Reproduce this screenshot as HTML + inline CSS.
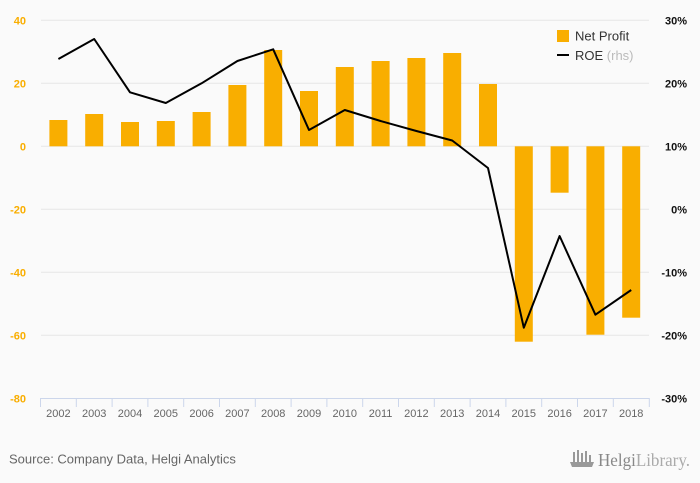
<!DOCTYPE html>
<html><head><meta charset="utf-8"><style>
html,body{margin:0;padding:0;background:#fafafa;}
svg{display:block;font-family:"Liberation Sans",sans-serif;}
</style></head><body>
<svg width="700" height="483" viewBox="0 0 700 483" xmlns="http://www.w3.org/2000/svg">
<rect width="700" height="483" fill="#fafafa"/>
<g stroke="#e6e6e6" stroke-width="1">
<line x1="41" y1="20.3" x2="649" y2="20.3"/>
<line x1="41" y1="83.3" x2="649" y2="83.3"/>
<line x1="41" y1="146.3" x2="649" y2="146.3"/>
<line x1="41" y1="209.3" x2="649" y2="209.3"/>
<line x1="41" y1="272.3" x2="649" y2="272.3"/>
<line x1="41" y1="335.3" x2="649" y2="335.3"/>
</g>
<g stroke="#ccd6eb" stroke-width="1">
<line x1="40.5" y1="398.5" x2="649.5" y2="398.5"/>
<line x1="40.5" y1="398" x2="40.5" y2="407"/>
<line x1="76.3" y1="398" x2="76.3" y2="407"/>
<line x1="112.1" y1="398" x2="112.1" y2="407"/>
<line x1="147.9" y1="398" x2="147.9" y2="407"/>
<line x1="183.7" y1="398" x2="183.7" y2="407"/>
<line x1="219.5" y1="398" x2="219.5" y2="407"/>
<line x1="255.3" y1="398" x2="255.3" y2="407"/>
<line x1="291.1" y1="398" x2="291.1" y2="407"/>
<line x1="326.9" y1="398" x2="326.9" y2="407"/>
<line x1="362.7" y1="398" x2="362.7" y2="407"/>
<line x1="398.5" y1="398" x2="398.5" y2="407"/>
<line x1="434.3" y1="398" x2="434.3" y2="407"/>
<line x1="470.1" y1="398" x2="470.1" y2="407"/>
<line x1="505.9" y1="398" x2="505.9" y2="407"/>
<line x1="541.7" y1="398" x2="541.7" y2="407"/>
<line x1="577.5" y1="398" x2="577.5" y2="407"/>
<line x1="613.3" y1="398" x2="613.3" y2="407"/>
<line x1="649.3" y1="398" x2="649.3" y2="407"/>
</g>
<g fill="#f9ae00">
<rect x="49.4" y="120" width="18" height="26.3"/>
<rect x="85.2" y="114" width="18" height="32.3"/>
<rect x="121" y="122" width="18" height="24.3"/>
<rect x="156.8" y="121" width="18" height="25.3"/>
<rect x="192.6" y="112" width="18" height="34.3"/>
<rect x="228.4" y="85" width="18" height="61.3"/>
<rect x="264.2" y="50" width="18" height="96.3"/>
<rect x="300" y="91" width="18" height="55.3"/>
<rect x="335.8" y="67" width="18" height="79.3"/>
<rect x="371.6" y="61" width="18" height="85.3"/>
<rect x="407.4" y="58" width="18" height="88.3"/>
<rect x="443.2" y="53" width="18" height="93.3"/>
<rect x="479" y="84" width="18" height="62.3"/>
<rect x="514.8" y="146.3" width="18" height="195.4"/>
<rect x="550.6" y="146.3" width="18" height="46.4"/>
<rect x="586.4" y="146.3" width="18" height="188.4"/>
<rect x="622.2" y="146.3" width="18" height="171.4"/>
</g>
<polyline fill="none" stroke="#000" stroke-width="2" stroke-linejoin="round" points="58.4,59 94.2,39 130,92.3 165.8,103 201.6,83.3 237.4,61 273.2,49.3 309,130 344.8,110 380.6,121 416.4,131 452.2,140.5 488,168 523.8,327.7 559.6,236 595.4,314.7 631.2,290"/>
<g fill="#f9ae00" font-size="11" font-weight="bold" text-anchor="end">
<text x="26" y="24.3">40</text>
<text x="26" y="87.3">20</text>
<text x="26" y="150.3">0</text>
<text x="26" y="213.3">-20</text>
<text x="26" y="276.3">-40</text>
<text x="26" y="339.3">-60</text>
<text x="26" y="402.3">-80</text>
</g>
<g fill="#111" font-size="11" font-weight="bold" text-anchor="end">
<text x="687" y="24.3">30%</text>
<text x="687" y="87.3">20%</text>
<text x="687" y="150.3">10%</text>
<text x="687" y="213.3">0%</text>
<text x="687" y="276.3">-10%</text>
<text x="687" y="339.3">-20%</text>
<text x="687" y="402.3">-30%</text>
</g>
<g fill="#666" font-size="11" text-anchor="middle">
<text x="58.4" y="417">2002</text>
<text x="94.2" y="417">2003</text>
<text x="130" y="417">2004</text>
<text x="165.8" y="417">2005</text>
<text x="201.6" y="417">2006</text>
<text x="237.4" y="417">2007</text>
<text x="273.2" y="417">2008</text>
<text x="309" y="417">2009</text>
<text x="344.8" y="417">2010</text>
<text x="380.6" y="417">2011</text>
<text x="416.4" y="417">2012</text>
<text x="452.2" y="417">2013</text>
<text x="488" y="417">2014</text>
<text x="523.8" y="417">2015</text>
<text x="559.6" y="417">2016</text>
<text x="595.4" y="417">2017</text>
<text x="631.2" y="417">2018</text>
</g>
<rect x="557" y="30" width="12" height="12" fill="#f9ae00"/>
<text x="575" y="40.5" font-size="13" fill="#333">Net Profit</text>
<line x1="557" y1="55" x2="569" y2="55" stroke="#000" stroke-width="2"/>
<text x="575" y="60" font-size="13" fill="#333">ROE <tspan fill="#bbb">(rhs)</tspan></text>
<text x="9" y="463.5" font-size="13" fill="#666">Source: Company Data, Helgi Analytics</text>
<g fill="#999">
<rect x="573" y="452" width="2" height="11"/>
<rect x="577" y="450" width="2" height="13"/>
<rect x="581" y="453" width="2" height="10"/>
<rect x="585" y="451" width="2" height="12"/>
<rect x="589" y="455" width="2" height="8"/>
<path d="M570,462 L594,462 L592,467 L572,467 Z"/>
</g>
<text x="598" y="466" font-family="'Liberation Serif',serif" font-size="18" fill="#888" textLength="92" lengthAdjust="spacingAndGlyphs">Helgi<tspan fill="#aaa">Library.</tspan></text>
</svg>
</body></html>
